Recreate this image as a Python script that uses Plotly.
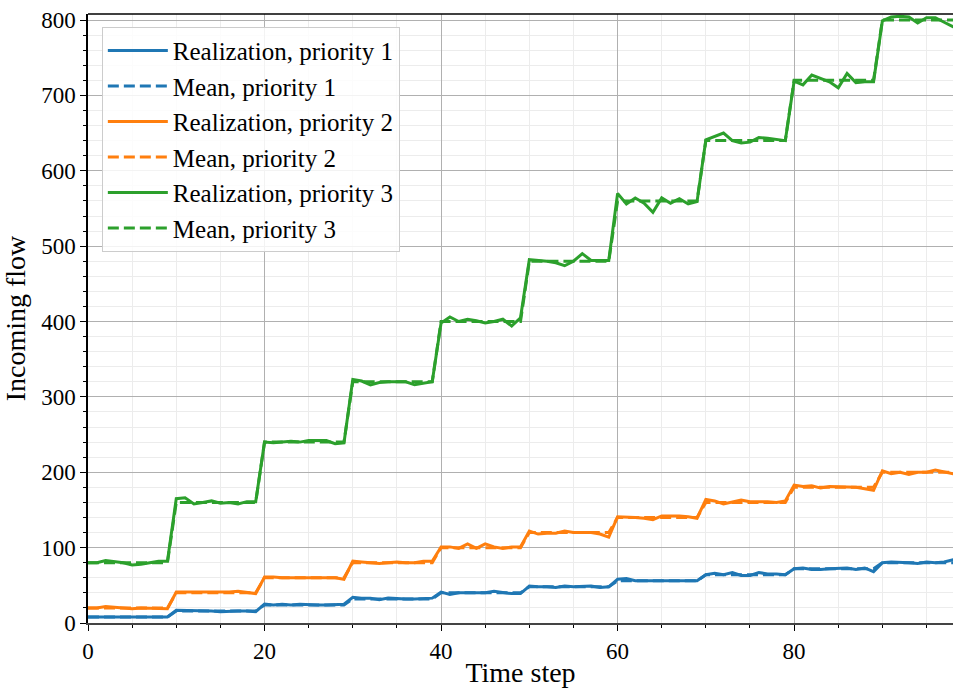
import plotly.graph_objects as go

steps = list(range(0, 100))

mean_p1 = [8]*10 + [16]*10 + [24]*10 + [32]*10 + [40]*10 + [48]*10 + [56]*10 + [64]*10 + [72]*10 + [80]*10
mean_p2 = [20]*10 + [40]*10 + [60]*10 + [80]*10 + [100]*10 + [120]*10 + [140]*10 + [160]*10 + [180]*10 + [200]*10
mean_p3 = [80]*10 + [160]*10 + [240]*10 + [320]*10 + [400]*10 + [480]*10 + [560]*10 + [640]*10 + [720]*10 + [800]*10

real_p1 = [8, 8, 7, 7, 8, 8, 7, 7, 8, 8,
           17, 17, 16, 16, 16, 15, 16, 16, 16, 15,
           25, 24, 25, 24, 25, 24, 24, 24, 25, 25,
           34, 33, 33, 31, 33, 32, 32, 32, 32, 33,
           41, 38, 40, 40, 40, 40, 42, 40, 39, 39,
           49, 48, 48, 47, 49, 48, 48, 49, 47, 48,
           58, 59, 56, 56, 57, 57, 57, 56, 56, 56,
           64, 66, 64, 67, 63, 63, 67, 65, 65, 64,
           72, 73, 71, 71, 72, 73, 73, 71, 73, 68,
           80, 81, 81, 80, 79, 81, 80, 81, 84, 82]

real_p2 = [20, 20, 22, 21, 20, 19, 20, 20, 19, 19,
           41, 41, 41, 40, 40, 40, 41, 42, 40, 39,
           61, 61, 60, 60, 60, 59, 60, 60, 60, 58,
           82, 81, 80, 79, 80, 81, 80, 80, 82, 82,
           101, 101, 99, 105, 99, 105, 101, 99, 101, 101,
           122, 118, 119, 119, 122, 120, 120, 120, 118, 114,
           141, 141, 140, 139, 137, 142, 142, 142, 141, 139,
           164, 162, 158, 161, 163, 161, 161, 161, 160, 162,
           183, 181, 182, 179, 181, 181, 181, 180, 178, 176,
           202, 198, 200, 197, 200, 200, 203, 201, 198, 199]

real_p3 = [80, 80, 83, 82, 80, 77, 78, 80, 82, 82,
           165, 166, 158, 160, 162, 159, 160, 158, 161, 161,
           240, 239, 240, 241, 240, 242, 242, 242, 238, 239,
           323, 321, 316, 319, 320, 320, 320, 316, 318, 320,
           398, 406, 400, 403, 401, 398, 400, 403, 394, 405,
           482, 481, 480, 478, 474, 480, 490, 481, 481, 481,
           570, 556, 564, 557, 545, 564, 557, 563, 556, 559,
           641, 646, 650, 640, 637, 638, 644, 643, 642, 640,
           719, 714, 727, 723, 718, 710, 729, 717, 718, 718,
           799, 804, 805, 804, 796, 803, 803, 797, 791, 792]

x_ticks = [0, 20, 40, 60, 80]
y_ticks = [0, 100, 200, 300, 400, 500, 600, 700, 800]

blue = "#1f77b4"
orange = "#ff7f0e"
green = "#2ca02c"
FONT = "Liberation Serif"

fig = go.Figure()
series = [
    ("Realization, priority 1", real_p1, blue, "solid"),
    ("Mean, priority 1", mean_p1, blue, "11px,5px"),
    ("Realization, priority 2", real_p2, orange, "solid"),
    ("Mean, priority 2", mean_p2, orange, "11px,5px"),
    ("Realization, priority 3", real_p3, green, "solid"),
    ("Mean, priority 3", mean_p3, green, "11px,5px"),
]
for name, ys, col, dash in series:
    fig.add_trace(go.Scatter(x=steps, y=ys, mode="lines", name=name,
                             line=dict(color=col, width=3, dash=dash)))

fig.update_layout(
    width=953, height=688,
    margin=dict(l=88, r=0, t=14, b=65),
    paper_bgcolor="white", plot_bgcolor="white",
    font=dict(family=FONT, size=22, color="black"),
    showlegend=True,
    legend=dict(x=0.016, y=0.979, xanchor="left", yanchor="top",
                bgcolor="rgba(255,255,255,0.85)", bordercolor="#cccccc",
                borderwidth=1, font=dict(family=FONT, size=25),
                tracegroupgap=0, itemwidth=60),
)
fig.update_xaxes(
    range=[0, 98], tickvals=x_ticks, ticks="outside", ticklen=6, tickwidth=1.2,
    tickcolor="black", showline=True, linecolor="#444444", linewidth=2,
    mirror=False, showgrid=True, gridcolor="#b0b0b0", gridwidth=1,
    zeroline=False, tickfont=dict(size=23), ticklabelstandoff=0,
    title=dict(text="Time step", font=dict(size=28), standoff=2),
    minor=dict(dtick=5, tick0=0, ticks="outside", ticklen=3, tickcolor="black",
               showgrid=True, gridcolor="#ececec", gridwidth=1),
)
fig.update_yaxes(
    range=[0, 808], tickvals=y_ticks, ticks="outside", ticklen=6, tickwidth=1.2,
    tickcolor="black", showline=True, linecolor="black", linewidth=1.5,
    mirror=False, showgrid=True, gridcolor="#b0b0b0", gridwidth=1,
    zeroline=False, tickfont=dict(size=23),
    title=dict(text="Incoming flow", font=dict(size=28), standoff=8),
    minor=dict(dtick=20, tick0=0, ticks="outside", ticklen=3, tickcolor="black",
               showgrid=True, gridcolor="#ececec", gridwidth=1),
)
# top spine
fig.add_shape(type="line", xref="paper", yref="paper", x0=0, x1=1, y0=1, y1=1,
              line=dict(color="black", width=1.5))

fig.write_html("out.html")
